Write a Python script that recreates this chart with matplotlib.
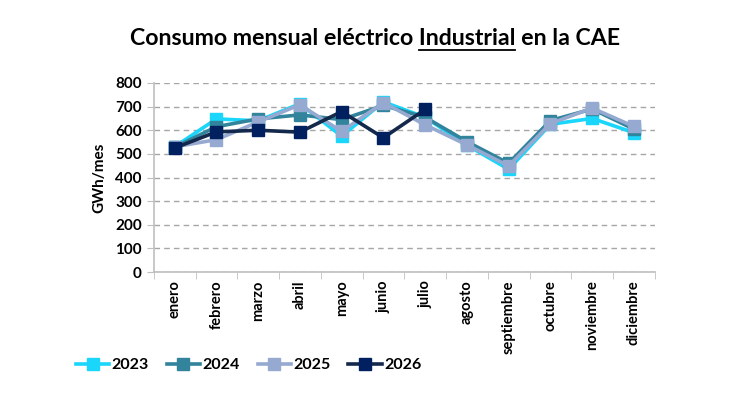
import matplotlib.pyplot as plt
import numpy as np

plt.rcParams['font.family'] = ['Lato', 'DejaVu Sans']

meses = ['enero', 'febrero', 'marzo', 'abril', 'mayo', 'junio', 'julio',
         'agosto', 'septiembre', 'octubre', 'noviembre', 'diciembre']

c2023 = [530, 648, 640, 712, 575, 720, 655, 537, 435, 625, 650, 590]
c2024 = [528, 615, 648, 665, 645, 705, 655, 552, 460, 641, 690, 605]
c2025 = [530, 560, 635, 708, 595, 717, 623, 538, 449, 628, 694, 616]
c2026 = [525, 593, 600, 592, 679, 568, 688]

series = [
    ('2023', c2023, '#19D6FA', '#19D6FA'),
    ('2024', c2024, '#31849B', '#31849B'),
    ('2025', c2025, '#95A9D1', '#95A9D1'),
    ('2026', c2026, '#14284B', '#002060'),
]

fig = plt.figure(figsize=(7.5, 4), dpi=100)
ax = fig.add_axes([0.205, 0.32, 0.668, 0.4725])

x = np.arange(len(meses))
for name, vals, lc, mc in series:
    ax.plot(x[:len(vals)], vals, color=lc, lw=2.6, marker='s', ms=9,
            mfc=mc, mec=mc, label=name)

ax.set_xlim(-0.5, len(meses) - 0.5)
ax.set_ylim(0, 800)
ax.set_yticks(range(0, 801, 100))
ax.yaxis.grid(True, ls=(0, (4, 3)), color='#A6A6A6', lw=1)
ax.set_axisbelow(True)

ax.set_xticks(x)
ax.set_xticklabels(meses, rotation=90, fontsize=10.5, fontweight='bold')
ax.tick_params(axis='x', which='major', length=0, pad=6)
ax.set_xticks(np.arange(-0.5, len(meses), 1), minor=True)
ax.tick_params(axis='x', which='minor', length=5, color='#BFBFBF', direction='out')
ax.tick_params(axis='y', length=5, color='#BFBFBF', labelsize=11)
for lab in ax.get_yticklabels():
    lab.set_fontweight('bold')

for s in ['top', 'right']:
    ax.spines[s].set_visible(False)
for s in ['left', 'bottom']:
    ax.spines[s].set_color('#BFBFBF')
    ax.spines[s].set_linewidth(1.2)

ax.set_ylabel('GWh/mes', fontsize=11, fontweight='bold', labelpad=6)

leg = fig.legend(loc='center left', bbox_to_anchor=(0.082, 0.0875), ncol=4,
                 frameon=False, handlelength=2.1, columnspacing=1.1,
                 handletextpad=0.15, prop={'weight': 'bold', 'size': 11.5})

# titulo con la palabra subrayada
titulo = 'Consumo mensual eléctrico Industrial en la CAE'
tfont = dict(fontsize=16.7, fontweight='bold')
ty = 0.888
t = fig.text(0.5, ty, titulo, ha='center', va='baseline', **tfont)
fig.canvas.draw()
r = fig.canvas.get_renderer()
bb = t.get_window_extent(r)
tmp1 = fig.text(0, 0, 'Consumo mensual eléctrico Industrial', **tfont)
tmp2 = fig.text(0, 0, 'Industrial', **tfont)
w1 = tmp1.get_window_extent(r).width
w2 = tmp2.get_window_extent(r).width
tmp1.remove()
tmp2.remove()
x1 = (bb.x0 + w1) / fig.bbox.width
x0 = (bb.x0 + w1 - w2) / fig.bbox.width
yl = ty - 0.012
fig.add_artist(plt.Line2D([x0, x1], [yl, yl], color='black', lw=1.3,
                          transform=fig.transFigure))

fig.savefig('out.png', dpi=100)
